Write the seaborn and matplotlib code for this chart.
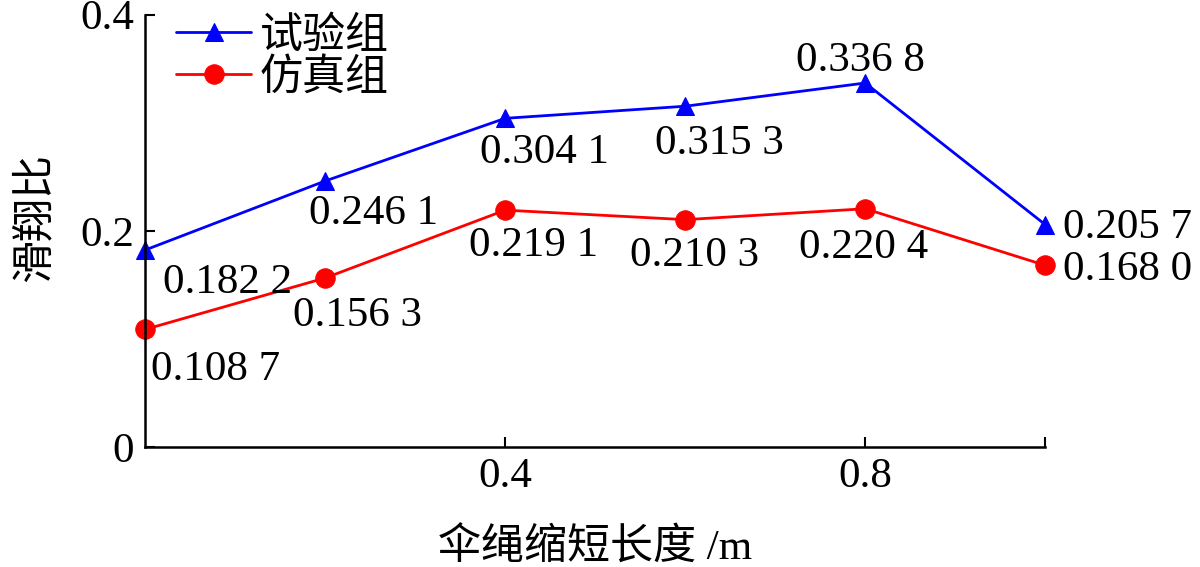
import pandas as pd
import seaborn as sns
import matplotlib.pyplot as plt

# data
lengths = [0.0, 0.2, 0.4, 0.6, 0.8, 1.0]
test_vals = [0.1822, 0.2461, 0.3041, 0.3153, 0.3368, 0.2057]
sim_vals = [0.1087, 0.1563, 0.2191, 0.2103, 0.2204, 0.1680]
test_name = "试验组"
sim_name = "仿真组"
xticks = [0.4, 0.8, 1.0]
xtick_labels = ["0.4", "0.8", ""]
yticks = [0, 0.2, 0.4]
ytick_labels = ["0", "0.2", "0.4"]

# label offsets in points (dx, dy, ha, va)
test_offsets = [(13, -10, "left", "top"), (-12, -10, "left", "top"), (-18, -11, "left", "top"),
                (-22, -13, "left", "top"), (-50, 2, "left", "bottom"), (13, -2, "left", "center")]
sim_offsets = [(4, -15, "left", "top"), (-23, -13, "left", "top"), (-26, -12, "left", "top"),
               (-40, -12, "left", "top"), (-48, -14, "left", "top"), (13, -3, "left", "center")]

sns.set_style("ticks")
plt.rcParams['font.family'] = ['Liberation Serif', 'Noto Sans CJK SC']
plt.rcParams['xtick.direction'] = 'in'
plt.rcParams['ytick.direction'] = 'in'
plt.rcParams['axes.unicode_minus'] = False
for key in ['text.color', 'axes.labelcolor', 'xtick.color', 'ytick.color', 'axes.edgecolor']:
    plt.rcParams[key] = 'black'

df_test = pd.DataFrame({"x": lengths, "y": test_vals})
df_sim = pd.DataFrame({"x": lengths, "y": sim_vals})

fig = plt.figure(figsize=(12, 5.67), dpi=100)
ax = fig.add_axes([0.121, 0.212, 0.75, 0.762])

sns.lineplot(data=df_test, x="x", y="y", ax=ax, color="blue", marker="^", markersize=13,
             markeredgecolor="blue", linewidth=2, label=test_name, clip_on=False)
sns.lineplot(data=df_sim, x="x", y="y", ax=ax, color="red", marker="o", markersize=14,
             markeredgecolor="red", linewidth=2, label=sim_name, clip_on=False)


def fmt(v):
    s = f"{v:.4f}"
    return s[:-1] + " " + s[-1]


for x, y, (dx, dy, ha, va) in zip(lengths, test_vals, test_offsets):
    ax.annotate(fmt(y), (x, y), xytext=(dx, dy), textcoords="offset points",
                ha=ha, va=va, fontsize=31, annotation_clip=False)
for x, y, (dx, dy, ha, va) in zip(lengths, sim_vals, sim_offsets):
    ax.annotate(fmt(y), (x, y), xytext=(dx, dy), textcoords="offset points",
                ha=ha, va=va, fontsize=31, annotation_clip=False)

ax.set_xlim(0, 1.0)
ax.set_ylim(0, 0.4)
ax.set_xticks(xticks)
ax.set_xticklabels(xtick_labels, fontsize=31)
ax.set_yticks(yticks)
ax.set_yticklabels(ytick_labels, fontsize=31)
ax.tick_params(length=7, width=1.5, pad=8)
for side in ["top", "right"]:
    ax.spines[side].set_visible(False)
for side in ["left", "bottom"]:
    ax.spines[side].set_linewidth(1.8)

ax.set_xlabel("伞绳缩短长度 /m", fontsize=31)
ax.xaxis.set_label_coords(0.5, -0.19, transform=ax.transAxes)
ax.xaxis.label.set_va("top")
ax.set_ylabel("滑翔比", fontsize=31)
ax.yaxis.set_label_coords(-0.1, 0.53)

leg = ax.legend(loc="upper left", frameon=False, fontsize=31, handlelength=1.75,
                handletextpad=0.2, labelspacing=0.05, borderaxespad=0.0,
                bbox_to_anchor=(0.015, 1.035))

fig.savefig("out.png", dpi=100)
